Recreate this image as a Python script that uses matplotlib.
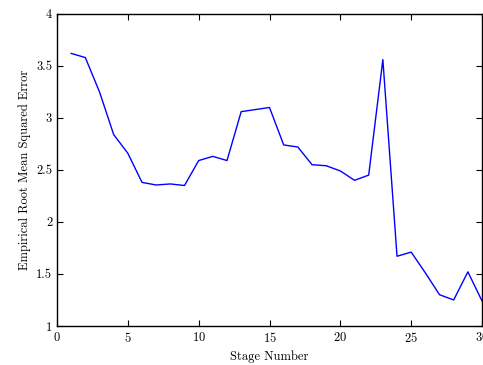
import matplotlib
matplotlib.use("Agg")
import matplotlib.pyplot as plt

stages = list(range(1, 31))
rmse = [3.62, 3.58, 3.25, 2.84, 2.66, 2.38, 2.355, 2.365, 2.35, 2.59,
        2.63, 2.59, 3.06, 3.08, 3.10, 2.74, 2.72, 2.55, 2.54, 2.49,
        2.40, 2.45, 3.56, 1.67, 1.71, 1.51, 1.30, 1.25, 1.52, 1.24]

plt.rcParams['font.family'] = 'cmr10'
plt.rcParams['mathtext.fontset'] = 'cm'
plt.rcParams['axes.formatter.use_mathtext'] = True

fig = plt.figure(figsize=(4.83, 3.65), dpi=100)
ax = fig.add_axes([0.118, 0.107, 0.880, 0.855])
ax.plot(stages, rmse, color='blue', linewidth=1.0)
ax.set_xlim(0, 30)
ax.set_ylim(1, 4)
ax.set_xticks([0, 5, 10, 15, 20, 25, 30])
ax.set_yticks([1, 1.5, 2, 2.5, 3, 3.5, 4])
ax.set_yticklabels(['1', '1.5', '2', '2.5', '3', '3.5', '4'])
ax.tick_params(direction='in', top=True, right=True, labelsize=9, length=4, width=0.8)
for s in ax.spines.values():
    s.set_linewidth(1.0)
ax.set_xlabel('Stage Number', fontsize=9)
ax.set_ylabel('Empirical Root Mean Squared Error', fontsize=9)
fig.savefig('out.png', dpi=100)
